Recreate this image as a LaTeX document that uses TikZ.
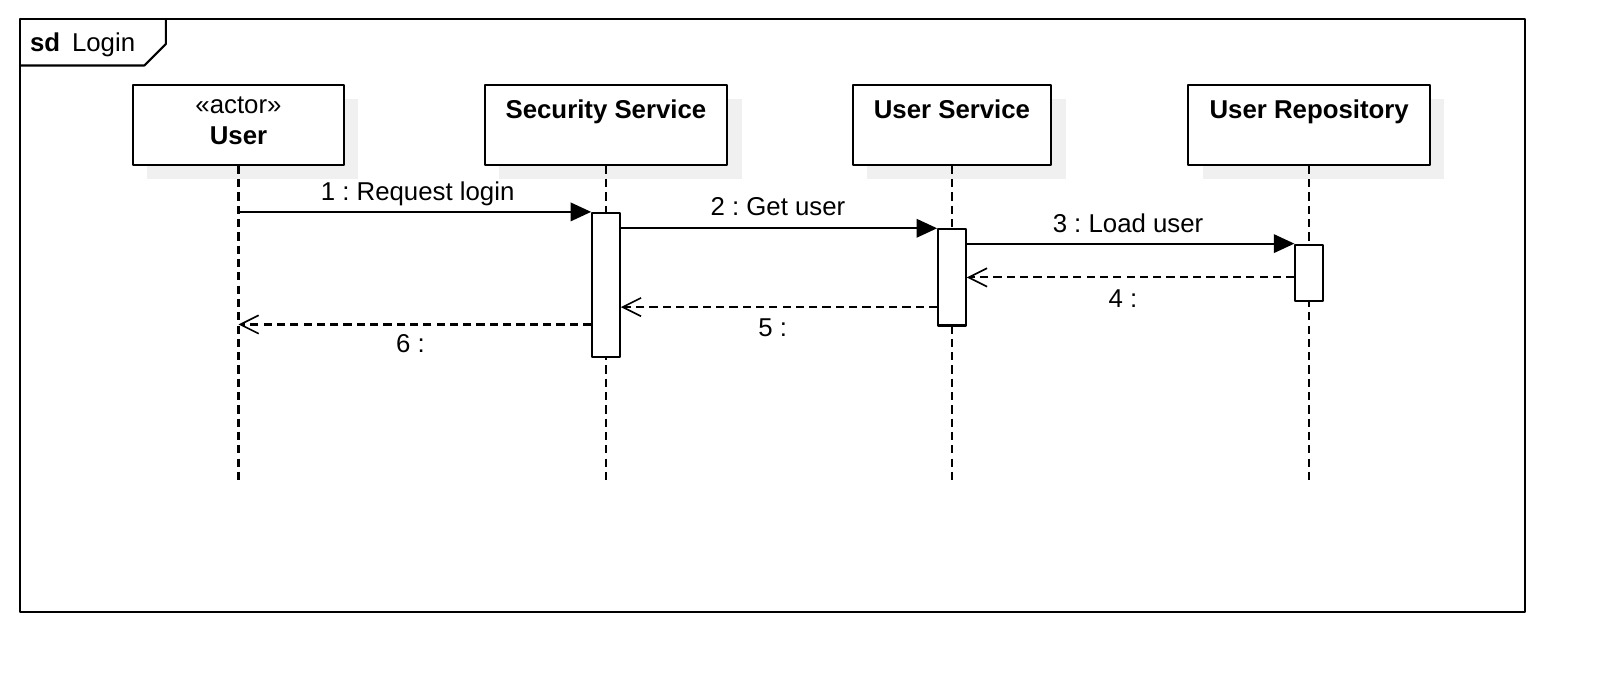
\documentclass[tikz,border=0pt]{standalone}
\usepackage{fontspec}
\setmainfont{Liberation Sans}
\frenchspacing
\usetikzlibrary{arrows.meta,shadows}
\begin{document}
\begin{tikzpicture}[x=0.5pt,y=-0.5pt, line join=round, font=\fontsize{12.6}{15}\selectfont,
	head/.style={draw, line width=1pt, fill=white, inner sep=0pt, anchor=north, minimum height=39pt,
		general shadow={fill=gray!12, shadow xshift=7pt, shadow yshift=-7pt}},
	bar/.style={draw, line width=1pt, fill=white, inner sep=0pt, anchor=north, minimum width=13.5pt},
	lifeline/.style={line width=1pt, dash pattern=on 4pt off 2.5pt},
	call/.style={line width=1pt, -{Triangle[length=10pt,width=9pt]}},
	reply/.style={line width=1pt, dash pattern=on 4pt off 2.5pt, -{Straight Barb[length=9pt,width=9pt,line width=0.8pt]}},
	txt/.style={anchor=base, inner sep=0pt}]
	\useasboundingbox (0,0) rectangle (1567,676);
	% frame with its tab
	\draw[line width=1pt] (20,19) rectangle (1490,598);
	\draw[line width=1pt] (20,64) -- (141,64) -- (162,43) -- (162,19);
	\node[txt, anchor=base west] (sd) at (29,50) {\bfseries sd};
	\node[txt, anchor=base west] (name) at (70,50) {Login};
	% lifeline heads
	\foreach \n/\x/\w in {user/233/103pt, sec/592/118.5pt, usv/930/97pt, repo/1279/118pt}
	\node[head, minimum width=\w] (\n) at (\x,82) {};
	\node[txt] (user-s) at (233,111) {«actor»};
	\node[txt] (user-t) at (233,141) {\bfseries User};
	\foreach \n/\t in {sec/Security Service, usv/User Service, repo/User Repository}
	\node[txt] (\n-t) at (\n.north |- 0,116) {\bfseries \t};
	% lifelines
	\foreach \n in {user,sec,usv,repo}{
		\coordinate (\n-end) at (\n.south |- 0,472);
		\draw[lifeline] (\n.south) -- (\n-end);
	}
	% activations
	\node[bar, minimum height=70.5pt] (secbar) at (sec.south |- 0,207) {};
	\node[bar, minimum height=47pt] (usvbar) at (usv.south |- 0,223) {};
	\node[bar, minimum height=27.5pt] (repobar) at (repo.south |- 0,238) {};
	% messages
	\draw[call] (user.south |- secbar.north) -- (secbar.north west);
	\draw[call] (secbar.north east |- usvbar.north) -- (usvbar.north west);
	\draw[call] (usvbar.north east |- repobar.north) -- (repobar.north west);
	\draw[reply] (repobar.west |- 0,271) -- (usvbar.east |- 0,271);
	\draw[reply] (usvbar.west |- 0,300) -- (secbar.east |- 0,300);
	\draw[reply] (secbar.west |- 0,317) -- (user.south |- 0,317);
	\node[txt] (m1) at (408,196) {1 : Request login};
	\node[txt] (m2) at (760,211) {2 : Get user};
	\node[txt] (m3) at (1102,227) {3 : Load user};
	\node[txt] (m4) at (1097,300) {4 :};
	\node[txt] (m5) at (755,329) {5 :};
	\node[txt] (m6) at (401,344) {6 :};
\end{tikzpicture}
\end{document}
